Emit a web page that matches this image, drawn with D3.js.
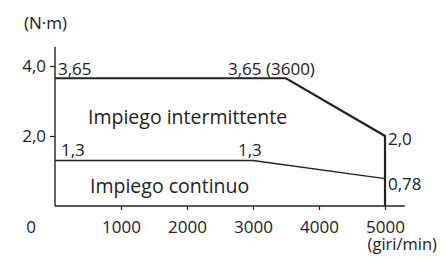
<!DOCTYPE html>
<html>
<head>
<meta charset="utf-8">
<script src="https://cdn.jsdelivr.net/npm/d3@7"></script>
<style>
  body { margin: 0; background: #fff; }
  text { font-family: "Open Sans", sans-serif; fill: #222; }
</style>
</head>
<body>
<div id="chart"></div>
<script>
// data
var intermRpm    = [0, 3500, 5000, 5000];
var intermTorque = [3.65, 3.65, 2.0, 0];
var contRpm      = [0, 3000, 5000];
var contTorque   = [1.3, 1.3, 0.78];
var xTicks = [1000, 2000, 3000, 4000, 5000];
var yTicks = [2.0, 4.0];
var fmt = function(v) { return v.toFixed(1).replace(".", ","); };

var width = 446, height = 258;
var fs = "17px", fsBig = "19.5px";

var svg = d3.select("#chart")
  .append("svg")
  .attr("width", width)
  .attr("height", height);

// set the ranges
var x = d3.scaleLinear().domain([0, 5000]).range([55, 385]);
var y = d3.scaleLinear().domain([0, 4]).range([206, 66]);

// axes
var xAxis = svg.append("g")
  .attr("transform", "translate(0," + y(0) + ")")
  .call(d3.axisBottom(x).tickValues(xTicks).tickSize(4).tickSizeOuter(0).tickFormat(d3.format("d")));
xAxis.select(".domain").attr("d", "M" + x(0) + ",0H" + x(5300));

var yAxis = svg.append("g")
  .attr("transform", "translate(" + x(0) + ",0)")
  .call(d3.axisLeft(y).tickValues(yTicks).tickSize(5).tickSizeOuter(0).tickFormat(fmt));
yAxis.select(".domain").attr("d", "M0," + y(0) + "V" + y(4.55));

svg.selectAll(".domain").attr("stroke", "#222").attr("stroke-width", 1.4);
svg.selectAll(".tick line").attr("stroke", "#222").attr("stroke-width", 1.2);
svg.selectAll(".tick text").style("font-size", fs).style("fill", "#222")
  .attr("font-family", null);
xAxis.selectAll(".tick text").attr("dy", null).attr("y", 27);
yAxis.selectAll(".tick text").attr("dy", "0.35em").attr("x", -9);

// origin and unit labels
svg.append("text").attr("x", x(0) - 24).attr("y", y(0) + 27).attr("text-anchor", "middle")
  .style("font-size", fs).text("0");
svg.append("text").attr("x", 24).attr("y", 29).style("font-size", fs).text("(N·m)");
svg.append("text").attr("x", 437).attr("y", 250).attr("text-anchor", "end")
  .style("font-size", "16.5px").text("(giri/min)");

// lines
var line = d3.line()
  .x(function(d) { return x(d[0]); })
  .y(function(d) { return y(d[1]); });

svg.append("path")
  .attr("d", line(d3.zip(contRpm, contTorque)))
  .attr("fill", "none").attr("stroke", "#222").attr("stroke-width", 1.3);

svg.append("path")
  .attr("d", line(d3.zip(intermRpm, intermTorque)))
  .attr("fill", "none").attr("stroke", "#222").attr("stroke-width", 2.2)
  .attr("stroke-linejoin", "miter");

// value labels
var labels = [
  { t: "3,65", rx: 0, v: 3.65, dx: 3, dy: -3 },
  { t: "3,65 (3600)", rx: 3500, v: 3.65, dx: -58, dy: -3 },
  { t: "2,0", rx: 5000, v: 2.0, dx: 3, dy: 9 },
  { t: "1,3", rx: 0, v: 1.3, dx: 6, dy: -5 },
  { t: "1,3", rx: 3000, v: 1.3, dx: -15, dy: -5 },
  { t: "0,78", rx: 5000, v: 0.78, dx: 3, dy: 11 }
];
svg.selectAll(".vlab").data(labels).enter().append("text")
  .attr("class", "vlab")
  .attr("x", function(d) { return x(d.rx) + d.dx; })
  .attr("y", function(d) { return y(d.v) + d.dy; })
  .style("font-size", fs)
  .text(function(d) { return d.t; });

svg.append("text").attr("x", 88).attr("y", 124).style("font-size", fsBig).text("Impiego intermittente");
svg.append("text").attr("x", 90).attr("y", 193).style("font-size", fsBig).text("Impiego continuo");
</script>
</body>
</html>
